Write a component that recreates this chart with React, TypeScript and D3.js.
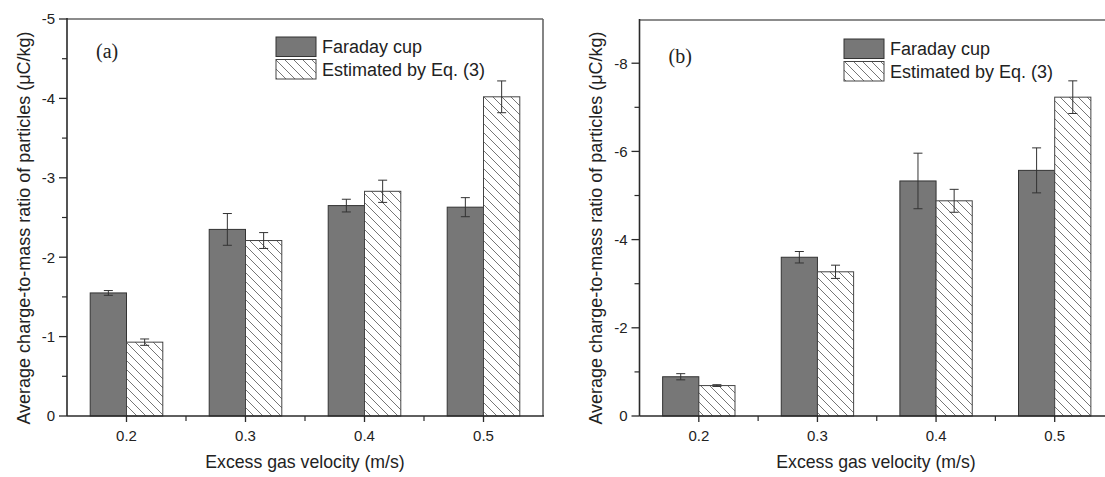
import React from "react";
import * as d3 from "d3";

// Excess gas velocity (m/s)
const velocities = [0.2, 0.3, 0.4, 0.5];

// Panel (a) — charge-to-mass ratio (μC/kg)
const faradayA = [-1.55, -2.35, -2.65, -2.63];
const faradayErrA = [0.03, 0.2, 0.08, 0.12];
const estimatedA = [-0.93, -2.21, -2.83, -4.02];
const estimatedErrA = [0.04, 0.1, 0.14, 0.2];

// Panel (b)
const faradayB = [-0.89, -3.6, -5.33, -5.57];
const faradayErrB = [0.07, 0.13, 0.63, 0.51];
const estimatedB = [-0.69, -3.27, -4.88, -7.23];
const estimatedErrB = [0.02, 0.15, 0.26, 0.37];

const yTicksA = [0, -1, -2, -3, -4, -5];
const yMinorA = [-0.5, -1.5, -2.5, -3.5, -4.5];
const yTicksB = [0, -2, -4, -6, -8];
const yMinorB = [-1, -3, -5, -7];
const xMinor = [0.25, 0.35, 0.45];

const legendLabels = ["Faraday cup", "Estimated by Eq. (3)"];
const xTitle = "Excess gas velocity (m/s)";
const yTitle = "Average charge-to-mass ratio of particles (\u03bcC/kg)";

const SANS = "Arial, 'Liberation Sans', sans-serif";
const SERIF = "'Times New Roman', 'Liberation Serif', serif";

type PanelProps = {
  label: string;
  left: number;
  right: number;
  top: number;
  bottom: number;
  yMax: number;
  yTicks: number[];
  yMinor: number[];
  faraday: number[];
  faradayErr: number[];
  estimated: number[];
  estimatedErr: number[];
  yTitleX: number;
  xTitleX: number;
  legendX: number;
  legendY: number;
  labelY: number;
};

function Panel(p: PanelProps) {
  const x = d3.scaleLinear().domain([0.15, 0.55]).range([p.left, p.right]);
  const y = d3.scaleLinear().domain([0, p.yMax]).range([p.bottom, p.top]);
  const unit = x(0.3) - x(0.2);
  const bw = unit * 0.305;
  const axisColor = "#2a2a2a";
  const frameColor = "#666";

  const errBar = (cx: number, v: number, e: number, key: string) => (
    <g key={key} stroke="#333" strokeWidth={1}>
      <line x1={cx} x2={cx} y1={y(v - e)} y2={y(v + e)} />
      <line x1={cx - 4.5} x2={cx + 4.5} y1={y(v - e)} y2={y(v - e)} />
      <line x1={cx - 4.5} x2={cx + 4.5} y1={y(v + e)} y2={y(v + e)} />
    </g>
  );

  return (
    <g>
      {/* frame: top and right */}
      <line x1={p.left} x2={p.right} y1={p.top} y2={p.top} stroke={frameColor} strokeWidth={1.6} />
      <line x1={p.right} x2={p.right} y1={p.top} y2={p.bottom} stroke={frameColor} strokeWidth={1.6} />

      {/* bars */}
      {velocities.map((v, i) => (
        <g key={"bar" + i}>
          <rect
            x={x(v) - bw}
            y={y(p.faraday[i])}
            width={bw}
            height={y(0) - y(p.faraday[i])}
            fill="#777"
            stroke="#333"
            strokeWidth={1}
          />
          <rect
            x={x(v)}
            y={y(p.estimated[i])}
            width={bw}
            height={y(0) - y(p.estimated[i])}
            fill="url(#hatch)"
            stroke="#444"
            strokeWidth={1}
          />
          {errBar(x(v) - bw / 2, p.faraday[i], p.faradayErr[i], "ef" + i)}
          {errBar(x(v) + bw / 2, p.estimated[i], p.estimatedErr[i], "ee" + i)}
        </g>
      ))}

      {/* axes */}
      <line x1={p.left} x2={p.left} y1={p.top - 1} y2={p.bottom} stroke={axisColor} strokeWidth={1.6} />
      <line x1={p.left} x2={p.right + 1} y1={p.bottom} y2={p.bottom} stroke={axisColor} strokeWidth={1.6} />

      {p.yTicks.map((t) => (
        <g key={"yt" + t}>
          <line x1={p.left - 8} x2={p.left} y1={y(t)} y2={y(t)} stroke={axisColor} strokeWidth={1.3} />
          <text
            x={p.left - 12}
            y={y(t)}
            dy="0.36em"
            textAnchor="end"
            fontFamily={SANS}
            fontSize={15}
            fill="#222"
          >
            {t === 0 ? "0" : "-" + Math.abs(t)}
          </text>
        </g>
      ))}
      {p.yMinor.map((t) => (
        <line key={"ym" + t} x1={p.left - 5} x2={p.left} y1={y(t)} y2={y(t)} stroke={axisColor} strokeWidth={1.2} />
      ))}

      {velocities.map((v) => (
        <g key={"xt" + v}>
          <line x1={x(v)} x2={x(v)} y1={p.bottom} y2={p.bottom + 6} stroke={axisColor} strokeWidth={1.3} />
          <text
            x={x(v)}
            y={p.bottom + 24.5}
            textAnchor="middle"
            fontFamily={SANS}
            fontSize={15}
            fill="#222"
          >
            {v.toFixed(1)}
          </text>
        </g>
      ))}
      {xMinor.map((v) => (
        <line key={"xm" + v} x1={x(v)} x2={x(v)} y1={p.bottom} y2={p.bottom + 5} stroke={axisColor} strokeWidth={1.2} />
      ))}

      {/* titles */}
      <text
        x={p.xTitleX}
        y={p.bottom + 52}
        textAnchor="middle"
        fontFamily={SANS}
        fontSize={17.7}
        fill="#222"
      >
        {xTitle}
      </text>
      <text
        transform={`translate(${p.yTitleX},${228}) rotate(-90)`}
        textAnchor="middle"
        fontFamily={SANS}
        fontSize={18}
        fill="#222"
      >
        {yTitle}
      </text>

      <text x={p.left + 29} y={p.labelY} fontFamily={SERIF} fontSize={20} fill="#222">
        {p.label}
      </text>

      {/* legend */}
      <rect x={p.legendX} y={p.legendY} width={40} height={19.5} fill="#777" stroke="#333" strokeWidth={1} />
      <rect x={p.legendX} y={p.legendY + 22.5} width={40} height={19.5} fill="url(#hatch)" stroke="#444" strokeWidth={1} />
      <text x={p.legendX + 46} y={p.legendY + 16} fontFamily={SANS} fontSize={18} fill="#222">
        {legendLabels[0]}
      </text>
      <text x={p.legendX + 46} y={p.legendY + 39} fontFamily={SANS} fontSize={18} fill="#222">
        {legendLabels[1]}
      </text>
    </g>
  );
}

export default function App() {
  return (
    <svg
      width={1105}
      height={477}
      style={{ position: "absolute", left: 0, top: 0, background: "#fff" }}
    >
      <defs>
        <pattern id="hatch" patternUnits="userSpaceOnUse" width={9} height={9}>
          <rect width={9} height={9} fill="#fff" />
          <path d="M0,0 L9,9 M-2,7 L2,11 M7,-2 L11,2" stroke="#666" strokeWidth={0.9} />
        </pattern>
      </defs>
      <rect width={1105} height={477} fill="#fff" />
      <Panel
        label="(a)"
        left={67}
        right={543}
        top={19}
        bottom={416}
        yMax={-5}
        yTicks={yTicksA}
        yMinor={yMinorA}
        faraday={faradayA}
        faradayErr={faradayErrA}
        estimated={estimatedA}
        estimatedErr={estimatedErrA}
        yTitleX={30}
        xTitleX={305}
        legendX={276}
        legendY={37}
        labelY={58}
      />
      <Panel
        label="(b)"
        left={639.5}
        right={1114}
        top={20}
        bottom={416}
        yMax={-8.98}
        yTicks={yTicksB}
        yMinor={yMinorB}
        faraday={faradayB}
        faradayErr={faradayErrB}
        estimated={estimatedB}
        estimatedErr={estimatedErrB}
        yTitleX={602}
        xTitleX={876}
        legendX={844}
        legendY={39}
        labelY={63}
      />
    </svg>
  );
}
